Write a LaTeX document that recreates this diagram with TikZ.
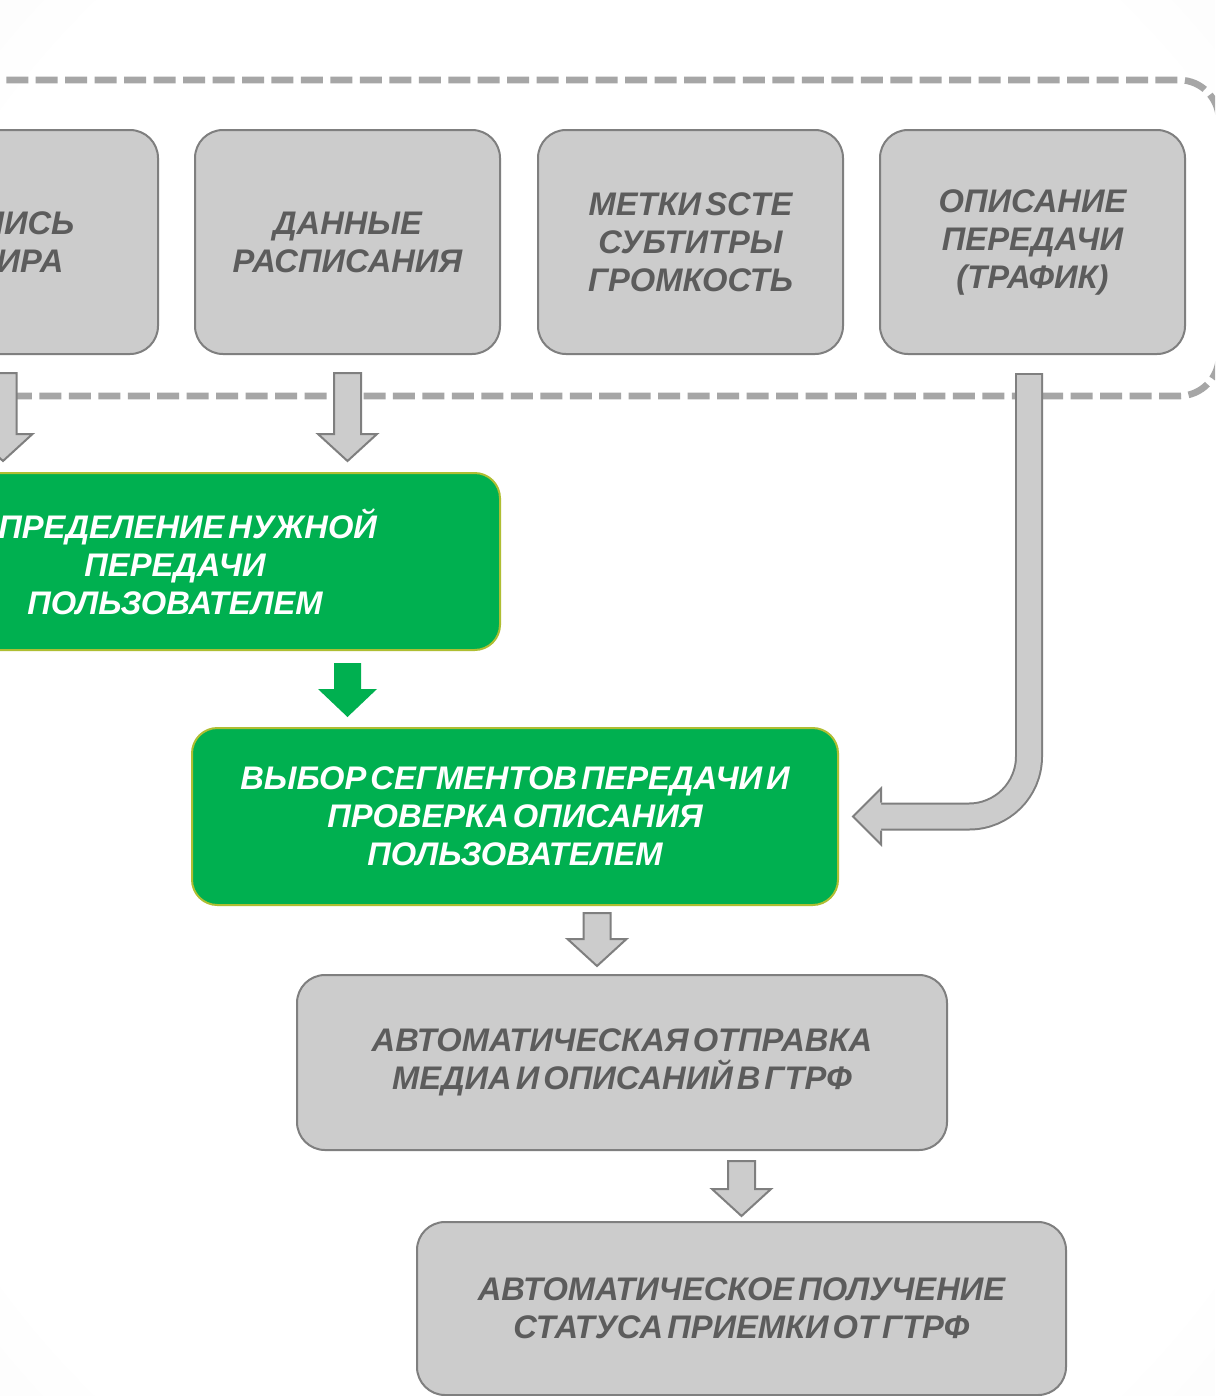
\documentclass[tikz,border=0pt]{standalone}
\usepackage{fontspec}
\setmainfont{Liberation Sans}[WordSpace=0.45]
\usetikzlibrary{calc}
\definecolor{boxgray}{RGB}{204,204,204}
\definecolor{edgegray}{RGB}{127,127,127}
\definecolor{txtgray}{RGB}{92,92,92}
\definecolor{dashgray}{RGB}{166,166,166}
\definecolor{grn}{RGB}{0,176,80}
\definecolor{grnedge}{RGB}{175,190,50}
\pgfdeclareradialshading{vign}{\pgfpoint{0bp}{0bp}}{color(0bp)=(white); color(32bp)=(white); color(50bp)=(black!5); color(75bp)=(black!10)}
\newcommand\blockdown[4][grayarrow]{%
  \path[#1] ($(#2)+(-13.5,0)$) -- ($(#2)+(13.5,0)$) -- ($(#3)+(13.5,-#4)$) -- ($(#3)+(29.5,-#4)$) -- (#3) -- ($(#3)+(-29.5,-#4)$) -- ($(#3)+(-13.5,-#4)$) -- cycle;}
\begin{document}
\begin{tikzpicture}[x=0.75pt,y=-0.75pt,
  txt/.style={font=\bfseries\itshape\fontsize{24.5}{28.5}\selectfont, align=center, inner sep=0pt},
  graybox/.style={txt, rectangle, rounded corners=21pt, fill=boxgray, draw=edgegray, line width=1.5pt, text=txtgray},
  greenbox/.style={txt, rectangle, rounded corners=19pt, fill=grn, draw=grnedge, line width=1.5pt, text=white},
  grayarrow/.style={fill=boxgray, draw=edgegray, line width=1.5pt, line join=miter},
  greenarrow/.style={fill=grn},
  dashframe/.style={draw=dashgray, line width=5pt, dash pattern=on 16.5pt off 5.6pt, rounded corners=30pt}
  ]
\useasboundingbox (0,0) rectangle (1215,1396);
\shade[shading=vign] (0,0) rectangle (1215,1396);
\clip (0,0) rectangle (1215,1396);

% dashed group frame
\path[dashframe] (-200,80) -- (1219,80) -- (1219,396) -- (-200,396);

% top row
\node[graybox, minimum width=228.75pt, minimum height=168pt] (t1) at (5.5,242) {ЗАПИСЬ\\ЭФИРА};
\node[graybox, minimum width=228.75pt, minimum height=168pt] (t2) at (347.5,242) {ДАННЫЕ\\РАСПИСАНИЯ};
\node[graybox, minimum width=228.75pt, minimum height=168pt] (t3) at (690.5,242) {МЕТКИ SCTE\\СУБТИТРЫ\\ГРОМКОСТЬ};
\node[graybox, minimum width=228.75pt, minimum height=168pt] (t4) at (1032.5,242) {ОПИСАНИЕ\\ПЕРЕДАЧИ\\(ТРАФИК)};

% process boxes
\node[greenbox, minimum width=487.5pt, minimum height=132.75pt] (g1) at (175,561.5) {ОПРЕДЕЛЕНИЕ НУЖНОЙ\\ПЕРЕДАЧИ\\ПОЛЬЗОВАТЕЛЕМ};
\node[greenbox, minimum width=484.5pt, minimum height=132.75pt] (g2) at (515,816.5) {ВЫБОР СЕГМЕНТОВ ПЕРЕДАЧИ И\\ПРОВЕРКА ОПИСАНИЯ\\ПОЛЬЗОВАТЕЛЕМ};
\node[graybox, minimum width=487.5pt, minimum height=131.25pt] (b3) at (622,1062.5) {АВТОМАТИЧЕСКАЯ ОТПРАВКА\\МЕДИА И ОПИСАНИЙ В ГТРФ};
\node[graybox, minimum width=486.75pt, minimum height=129.75pt] (b4) at (741.5,1308.5) {АВТОМАТИЧЕСКОЕ ПОЛУЧЕНИЕ\\СТАТУСА ПРИЕМКИ ОТ ГТРФ};

% straight block arrows
\coordinate (a1s) at ($(t1.south)+(-2.5,18)$);
\coordinate (a1t) at ($(a1s |- g1.north)+(0,-11)$);
\blockdown{a1s}{a1t}{27}
\coordinate (a2s) at ($(t2.south)+(0,18)$);
\coordinate (a2t) at ($(a2s |- g1.north)+(0,-11)$);
\blockdown{a2s}{a2t}{27}
\coordinate (gs) at ($(g1.south -| t2.south)+(0,12)$);
\coordinate (gt) at ($(gs |- g2.north)+(0,-10)$);
\blockdown[greenarrow]{gs}{gt}{28}
\coordinate (a3s) at ($(g2.south)+(82,7)$);
\coordinate (a3t) at ($(a3s |- b3.north)+(0,-8)$);
\blockdown{a3s}{a3t}{27}
\coordinate (a4s) at ($(b3.south -| b4.north)+(0,10)$);
\coordinate (a4t) at ($(b4.north)+(0,-5)$);
\blockdown{a4s}{a4t}{27}

% bent arrow from traffic description to segment selection
\coordinate (c0) at ($(t4.south)+(-3.5,18)$);
\coordinate (c1) at (c0 |- g2.east);
\coordinate (c2) at ($(g2.east)+(42,0)$);
\coordinate (ct) at ($(g2.east)+(14,0)$);
\draw[edgegray, line width=21pt, rounded corners=45pt] (c0) -- (c1) -- (c2);
\draw[boxgray, line width=18pt, rounded corners=45pt] ($(c0)+(0,2)$) -- (c1) -- (c2);
\path[grayarrow] ($(c2)+(0,14)$) -- ($(c2)+(0,28)$) -- (ct) -- ($(c2)+(0,-28)$) -- ($(c2)+(0,-14)$);
\end{tikzpicture}
\end{document}
